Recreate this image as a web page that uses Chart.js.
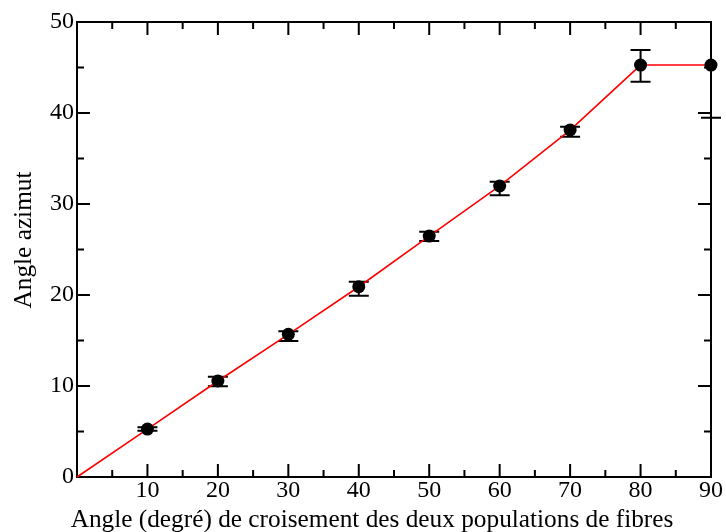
<!DOCTYPE html>
<html>
<head>
<meta charset="utf-8">
<script src="https://cdn.jsdelivr.net/npm/chart.js@4/dist/chart.umd.min.js"></script>
<style>
html,body{margin:0;padding:0;background:#fff;}
#wrap{width:726px;height:532px;position:relative;}
</style>
</head>
<body>
<div id="wrap"><canvas id="c" width="726" height="532"></canvas></div>
<script>
// ---- data ----
const crossAngles = [10, 20, 30, 40, 50, 60, 70, 80, 90];
const azimuthMeans = [5.27, 10.55, 15.68, 20.91, 26.48, 31.98, 38.13, 45.27, 45.27];
const azimuthUpper = [5.46, 11.02, 16.01, 21.46, 26.96, 32.45, 38.49, 46.92, 45.27];
const azimuthLower = [5.09, 9.97, 14.95, 19.92, 25.93, 30.96, 37.39, 43.44, 39.48];
const lineAngles = [0, 10, 20, 30, 40, 50, 60, 70, 80, 90];
const lineValues = [0, 5.27, 10.55, 15.68, 20.91, 26.48, 31.98, 38.13, 45.27, 45.27];
const xTickLabels = ['', '10', '20', '30', '40', '50', '60', '70', '80', '90'];
const yTickLabels = ['0', '10', '20', '30', '40', '50'];
const xTitle = 'Angle (degré) de croisement des deux populations de fibres';
const yTitle = 'Angle azimut';

const FONT = "'Liberation Serif', 'Times New Roman', serif";

const framePlugin = {
  id: 'frame',
  beforeDatasetsDraw(chart) {
    const {ctx, chartArea: a, scales: {x, y}} = chart;
    ctx.save();
    ctx.strokeStyle = '#000';
    ctx.lineWidth = 2;
    ctx.lineCap = 'butt';
    ctx.beginPath();
    ctx.rect(a.left, a.top, a.right - a.left, a.bottom - a.top);
    ctx.stroke();
    const major = 13, minor = 7;
    ctx.beginPath();
    for (let v = 0; v <= 90; v += 5) {
      const px = x.getPixelForValue(v);
      const len = (v % 10 === 0) ? major : minor;
      ctx.moveTo(px, a.bottom); ctx.lineTo(px, a.bottom - len);
      ctx.moveTo(px, a.top); ctx.lineTo(px, a.top + len);
    }
    for (let v = 0; v <= 50; v += 5) {
      const py = y.getPixelForValue(v);
      const len = (v % 10 === 0) ? major : minor;
      ctx.moveTo(a.left, py); ctx.lineTo(a.left + len, py);
      ctx.moveTo(a.right, py); ctx.lineTo(a.right - len, py);
    }
    ctx.stroke();
    // error bars
    ctx.lineWidth = 2;
    ctx.beginPath();
    const cap = 10;
    for (let i = 0; i < crossAngles.length; i++) {
      const px = x.getPixelForValue(crossAngles[i]);
      const pu = y.getPixelForValue(azimuthUpper[i]);
      const pl = y.getPixelForValue(azimuthLower[i]);
      ctx.moveTo(px, pu); ctx.lineTo(px, pl);
      if (azimuthUpper[i] !== azimuthMeans[i]) { ctx.moveTo(px - cap, pu); ctx.lineTo(px + cap, pu); }
      ctx.moveTo(px - cap, pl); ctx.lineTo(px + cap, pl);
    }
    ctx.stroke();
    ctx.restore();
  },
  afterDraw(chart) {
    const {ctx} = chart;
    ctx.save();
    ctx.fillStyle = '#000';
    ctx.font = '25.3px ' + FONT;
    ctx.textAlign = 'center';
    ctx.textBaseline = 'alphabetic';
    ctx.fillText(xTitle, 372, 527);
    ctx.translate(31, 240);
    ctx.rotate(-Math.PI / 2);
    ctx.fillText(yTitle, 0, 0);
    ctx.restore();
  }
};

new Chart(document.getElementById('c'), {
  type: 'scatter',
  data: {
    datasets: [
      {
        type: 'line',
        data: lineAngles.map((v, i) => ({x: v, y: lineValues[i]})),
        borderColor: '#ff0000',
        borderWidth: 1.6,
        pointRadius: 0,
        fill: false,
        tension: 0,
        clip: false,
        order: 2
      },
      {
        data: crossAngles.map((v, i) => ({x: v, y: azimuthMeans[i]})),
        backgroundColor: '#000',
        borderColor: '#000',
        pointRadius: 6.5,
        borderWidth: 0,
        clip: false,
        order: 1
      }
    ]
  },
  options: {
    responsive: false,
    animation: false,
    events: [],
    layout: {padding: {left: 0, top: 22, right: 15, bottom: 0}},
    plugins: {legend: {display: false}, tooltip: {enabled: false}},
    scales: {
      x: {
        type: 'linear', min: 0, max: 90,
        afterFit(s) { s.height = 55; },
        afterBuildTicks(s) { s.ticks = xTickLabels.map((t, i) => ({value: lineAngles[i]})); },
        grid: {display: false, drawTicks: false},
        border: {display: false},
        ticks: {
          autoSkip: false, maxRotation: 0, padding: -1,
          color: '#000', font: {family: FONT, size: 24},
          callback: (v, i) => xTickLabels[i]
        }
      },
      y: {
        type: 'linear', min: 0, max: 50,
        afterFit(s) { s.width = 77; },
        afterBuildTicks(s) { s.ticks = yTickLabels.map(t => ({value: Number(t)})); },
        grid: {display: false, drawTicks: false},
        border: {display: false},
        ticks: {
          autoSkip: false, padding: 3,
          color: '#000', font: {family: FONT, size: 24},
          callback: (v, i) => yTickLabels[i]
        }
      }
    }
  },
  plugins: [framePlugin]
});
</script>
</body>
</html>
